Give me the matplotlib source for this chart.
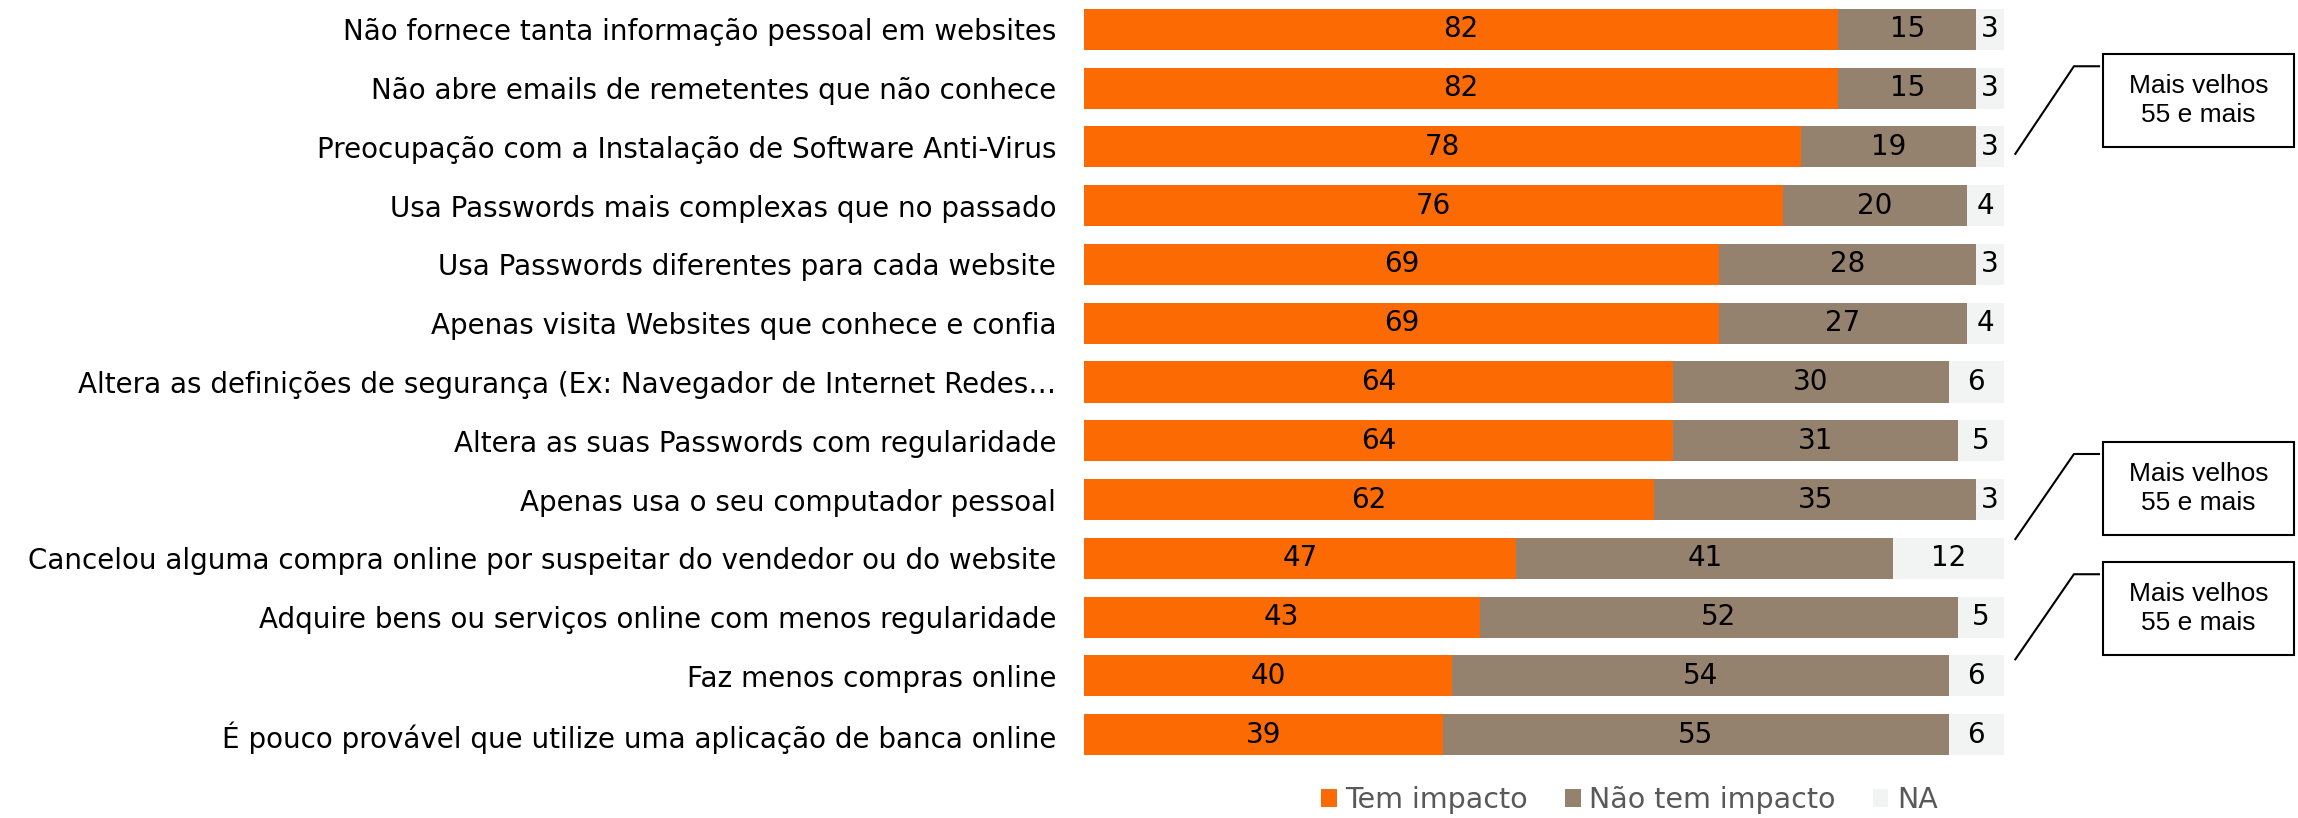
import matplotlib.pyplot as plt
from matplotlib.patches import Rectangle
from matplotlib.lines import Line2D

categories = [
    "Não fornece tanta informação pessoal em websites",
    "Não abre emails de remetentes que não conhece",
    "Preocupação com a Instalação de Software Anti-Virus",
    "Usa Passwords mais complexas que no passado",
    "Usa Passwords diferentes para cada website",
    "Apenas visita Websites que conhece e confia",
    "Altera as definições de segurança (Ex: Navegador de Internet Redes…",
    "Altera as suas Passwords com regularidade",
    "Apenas usa o seu computador pessoal",
    "Cancelou alguma compra online por suspeitar do vendedor ou do website",
    "Adquire bens ou serviços online com menos regularidade",
    "Faz menos compras online",
    "É pouco provável que utilize uma aplicação de banca online",
]
tem_impacto = [82, 82, 78, 76, 69, 69, 64, 64, 62, 47, 43, 40, 39]
nao_tem_impacto = [15, 15, 19, 20, 28, 27, 30, 31, 35, 41, 52, 54, 55]
na = [3, 3, 3, 4, 3, 4, 6, 5, 3, 12, 5, 6, 6]
series_names = ["Tem impacto", "Não tem impacto", "NA"]
callout_text = "Mais velhos\n55 e mais"

colors = ["#FC6A03", "#95826E", "#F2F3F3"]
font = "DejaVu Sans"
fsize = 20

fig = plt.figure(figsize=(22.98, 8.18), dpi=100)
ax = fig.add_axes([0.4717, 0.066, 0.4003, 0.934])

y = list(range(len(categories)))
left = [0] * len(categories)
for vals, col, name in zip([tem_impacto, nao_tem_impacto, na], colors, series_names):
    bars = ax.barh(y, vals, left=left, height=0.7, color=col, label=name)
    for b, v in zip(bars, vals):
        ax.text(b.get_x() + b.get_width() / 2, b.get_y() + b.get_height() / 2, str(v),
                ha="center", va="center", fontsize=fsize, family=font, color="black")
    left = [l + v for l, v in zip(left, vals)]

ax.set_xlim(0, 100)
ax.set_ylim(len(categories) - 0.5, -0.5)
ax.set_yticks(y)
ax.set_yticklabels(categories, fontsize=fsize, family=font)
ax.tick_params(axis="y", length=0, pad=20)
ax.set_xticks([])
for s in ax.spines.values():
    s.set_visible(False)

leg = fig.legend(loc="center", bbox_to_anchor=(0.709, 0.022), ncol=3, frameon=False,
                 prop={"family": font, "size": 20.5}, handlelength=0.55, handleheight=0.55,
                 handletextpad=0.3, columnspacing=1.3)
for t in leg.get_texts():
    t.set_color("#595959")

# callouts (figure coordinates)
boxes = [(0.877, 0.812, 0.919), (0.877, 0.341, 0.445), (0.877, 0.194, 0.298)]
for x0, y0, y1 in boxes:
    fig.add_artist(Line2D([x0, 0.9025, 0.9134], [y0, y1, y1], color="black", lw=1.5,
                          transform=fig.transFigure))
    box_h = 0.114
    by = y1 - 0.042
    fig.add_artist(Rectangle((0.9151, by - box_h / 2), 0.083, box_h,
                             transform=fig.transFigure, fill=False, ec="black", lw=1.5))
    fig.text(0.9566, by, callout_text, ha="center", va="center", fontsize=19,
             family="Liberation Sans", linespacing=1.25)

fig.savefig("out.png")
